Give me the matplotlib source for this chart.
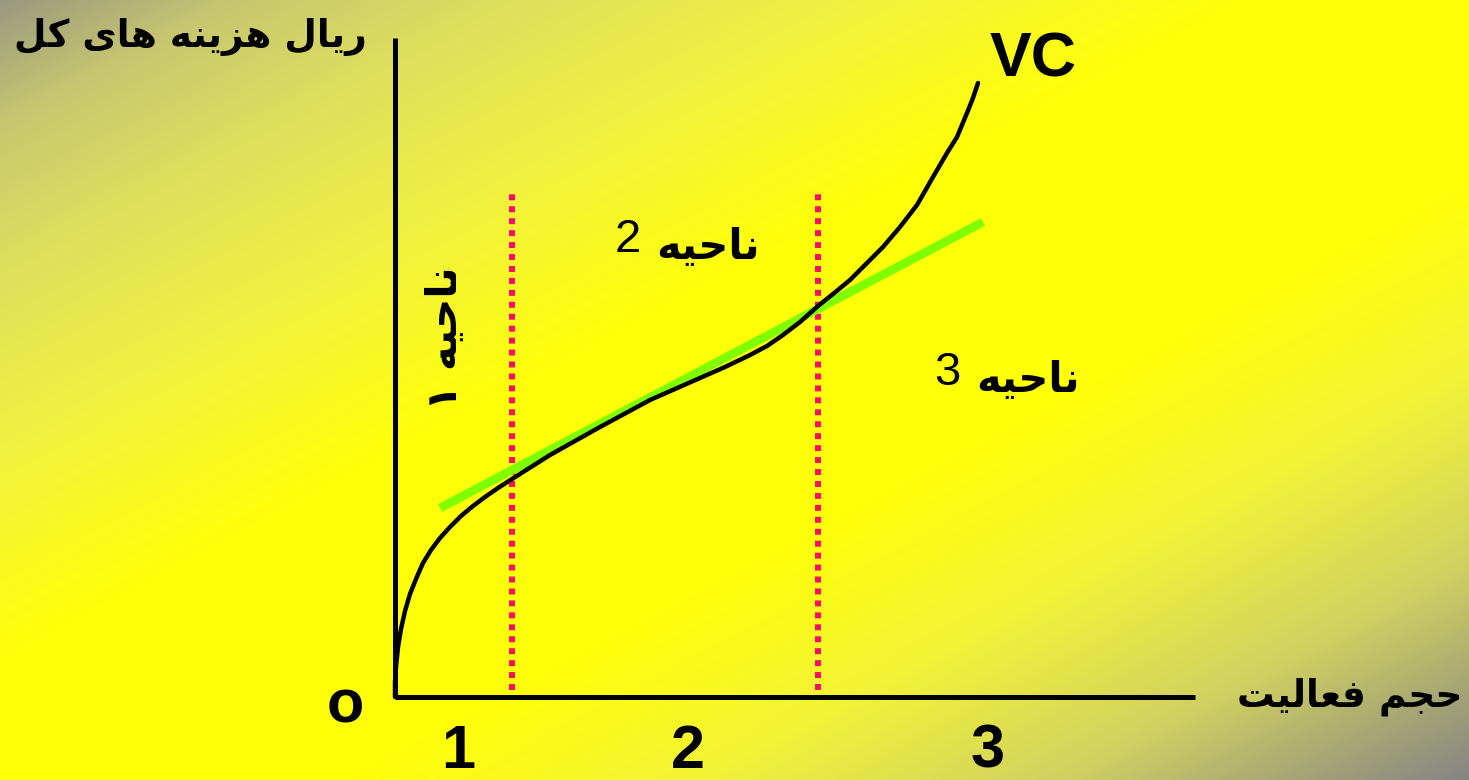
import matplotlib
matplotlib.use("Agg")
import matplotlib.pyplot as plt
import numpy as np

# ---- data (axis units: activity volume / total cost) ----
vc_x = [0.00, 0.00, 0.01, 0.03, 0.06, 0.10, 0.15, 0.21, 0.28, 0.36, 0.45,
        0.55, 0.66, 0.78, 0.90, 1.03, 1.17, 1.55, 2.05, 2.55, 3.05, 3.30,
        3.55, 3.72, 3.88, 4.05, 4.23, 4.38, 4.55, 4.72, 4.88, 5.05, 5.22,
        5.38, 5.52, 5.62, 5.72, 5.78, 5.83]
vc_y = [0.00, 0.15, 0.30, 0.50, 0.68, 0.86, 1.03, 1.18, 1.34, 1.47, 1.59,
        1.70, 1.81, 1.91, 2.00, 2.09, 2.18, 2.42, 2.70, 2.97, 3.19, 3.30,
        3.42, 3.51, 3.62, 3.75, 3.91, 4.03, 4.17, 4.34, 4.50, 4.70, 4.92,
        5.20, 5.44, 5.60, 5.84, 5.99, 6.14]
linear_x = [0.45, 5.88]
linear_y = [1.89, 4.75]
bounds_x = [1.17, 4.23]
bounds_y = [0.07, 5.04]
axis_x_max = 8.0
axis_y_max = 6.59
zone_ticks = [0.63, 2.93, 5.93]
zone_tick_labels = ["1", "2", "3"]

y_label = "ریال هزینه های کل"
x_label = "حجم فعالیت"
zone_word = "ناحیه"
zone1_label = "ناحیه ۱"

# ---- minimal Persian shaping (matplotlib has no bidi / joining) ----
FORMS = {
    # isolated, final, initial, medial (None -> right-joining only)
    "ا": ("\uFE8D", "\uFE8E", None, None),
    "ر": ("\uFEAD", "\uFEAE", None, None),
    "ز": ("\uFEAF", "\uFEB0", None, None),
    "ی": ("\uFBFC", "\uFBFD", "\uFBFE", "\uFBFF"),
    "ل": ("\uFEDD", "\uFEDE", "\uFEDF", "\uFEE0"),
    "ه": ("\uFEE9", "\uFEEA", "\uFEEB", "\uFEEC"),
    "ن": ("\uFEE5", "\uFEE6", "\uFEE7", "\uFEE8"),
    "ک": ("\uFB8E", "\uFB8F", "\uFB90", "\uFB91"),
    "ح": ("\uFEA1", "\uFEA2", "\uFEA3", "\uFEA4"),
    "ج": ("\uFE9D", "\uFE9E", "\uFE9F", "\uFEA0"),
    "م": ("\uFEE1", "\uFEE2", "\uFEE3", "\uFEE4"),
    "ف": ("\uFED1", "\uFED2", "\uFED3", "\uFED4"),
    "ع": ("\uFEC9", "\uFECA", "\uFECB", "\uFECC"),
    "ت": ("\uFE95", "\uFE96", "\uFE97", "\uFE98"),
}


def shape(text):
    out = []
    for i, ch in enumerate(text):
        if ch not in FORMS:
            out.append(ch)
            continue
        prev = text[i - 1] if i > 0 else ""
        nxt = text[i + 1] if i + 1 < len(text) else ""
        dual = FORMS[ch][2] is not None
        j_prev = prev in FORMS and FORMS[prev][2] is not None
        j_next = dual and nxt in FORMS
        iso, fin, ini, med = FORMS[ch]
        if j_prev and j_next:
            out.append(med)
        elif j_prev:
            out.append(fin)
        elif j_next:
            out.append(ini)
        else:
            out.append(iso)
    return "".join(out)[::-1]


# ---- figure ----
W, H = 14.69, 7.80
fig = plt.figure(figsize=(W, H), dpi=100)

# diagonal gray-yellow-gray background
bg = fig.add_axes([0, 0, 1, 1])
gx, gy = np.meshgrid(np.linspace(0, 1, 400), np.linspace(0, 1, 220))
t = (gx + gy) / 2
stops = [0.0, 0.08, 0.18, 0.3, 0.42, 0.62, 0.74, 0.86, 1.0]
r = [0.60, 0.78, 0.88, 0.95, 1.0, 1.0, 0.95, 0.82, 0.52]
g = [0.60, 0.78, 0.88, 0.95, 1.0, 1.0, 0.95, 0.82, 0.52]
b = [0.50, 0.44, 0.36, 0.24, 0.04, 0.04, 0.22, 0.38, 0.52]
img = np.dstack([np.interp(t, stops, r), np.interp(t, stops, g), np.interp(t, stops, b)])
bg.imshow(img, aspect="auto", extent=[0, 1, 0, 1], origin="upper", interpolation="bilinear")
bg.axis("off")

ax = fig.add_axes([0, 0, 1, 1])
ax.patch.set_alpha(0)
ax.set_xlim(-3.95, 10.74)
ax.set_ylim(-0.83, 6.97)
ax.axis("off")

# axes
ax.plot([0, axis_x_max], [0, 0], color="black", lw=3.6, solid_capstyle="butt")
ax.plot([0, 0], [0, axis_y_max], color="black", lw=3.6, solid_capstyle="butt")

# zone boundaries
for bx in bounds_x:
    ax.plot([bx, bx], bounds_y, color="#ff0a6a", lw=4.3,
            linestyle=(0, (1, 1)), dash_capstyle="butt")

# linear approximation and VC curve
ax.plot(linear_x, linear_y, color="#80ff00", lw=6.3, solid_capstyle="butt")
ax.plot(vc_x, vc_y, color="black", lw=3.2, solid_capstyle="round",
        solid_joinstyle="round")

# labels
ax.text(6.38, 6.37, "VC", fontsize=45, fontweight="bold", ha="center",
        va="center", family="Liberation Sans")
ax.text(-0.5, -0.1, "o", fontsize=44, fontweight="bold", ha="center",
        va="center", family="Liberation Sans")
for xv, lab in zip(zone_ticks, zone_tick_labels):
    ax.text(xv, -0.55, lab, fontsize=44, fontweight="bold", ha="center",
            va="center", family="Liberation Sans")

ax.text(-2.05, 6.6, shape(y_label), fontsize=27, fontweight="bold",
        ha="center", va="center", family="DejaVu Sans")
ax.text(9.55, 0.0, shape(x_label), fontsize=27, fontweight="bold",
        ha="center", va="center", family="DejaVu Sans")

ax.text(3.65, 4.5, shape(zone_word), fontsize=30, fontweight="bold",
        ha="right", va="center", family="DejaVu Sans")
ax.text(2.33, 4.57, "2", fontsize=34, ha="center", va="center",
        family="Liberation Sans")
ax.text(6.85, 3.17, shape(zone_word), fontsize=30, fontweight="bold",
        ha="right", va="center", family="DejaVu Sans")
ax.text(5.52, 3.24, "3", fontsize=34, ha="center", va="center",
        family="Liberation Sans")
ax.text(0.5, 3.59, shape(zone1_label), fontsize=30, fontweight="bold",
        rotation=90, ha="center", va="center", family="DejaVu Sans")

fig.savefig("out.png", dpi=100)
